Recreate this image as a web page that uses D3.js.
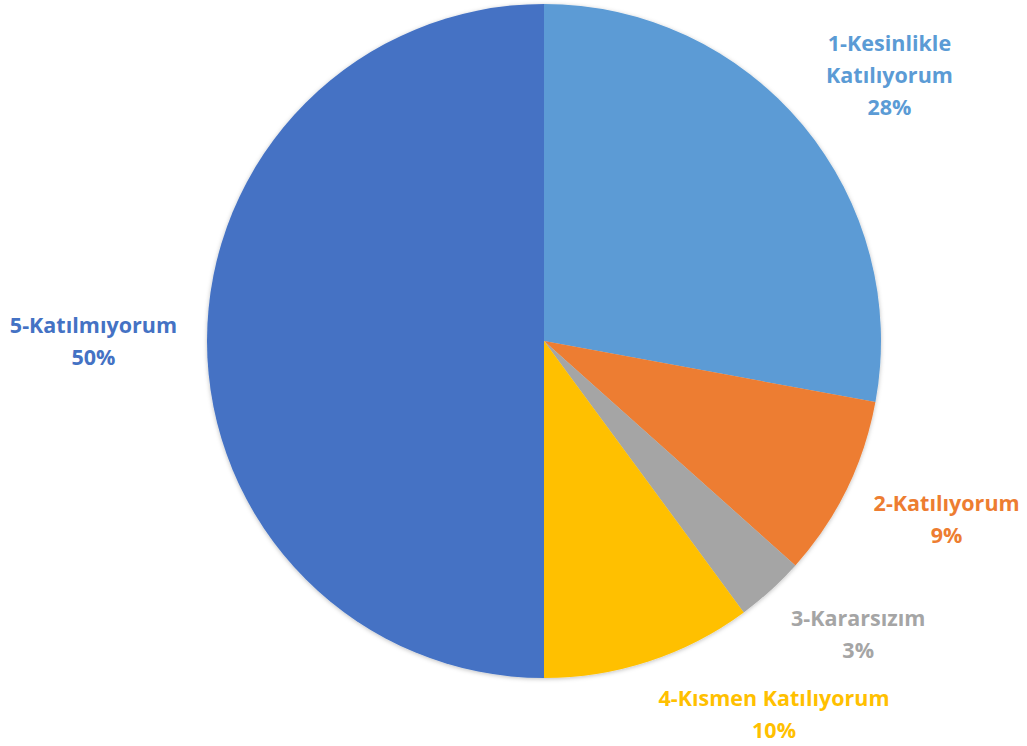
<!DOCTYPE html>
<html>
<head>
<meta charset="utf-8">
<script src="https://cdn.jsdelivr.net/npm/d3@7"></script>
<style>
  body { margin: 0; background: #fff; }
  svg text { font-family: "Open Sans", sans-serif; font-weight: bold; }
</style>
</head>
<body>
<svg id="chart"></svg>
<script>
const categories = ["1-Kesinlikle Katılıyorum", "2-Katılıyorum", "3-Kararsızım", "4-Kısmen Katılıyorum", "5-Katılmıyorum"];
// label lines as shown in the chart
const labelLines = [["1-Kesinlikle", "Katılıyorum"], ["2-Katılıyorum"], ["3-Kararsızım"], ["4-Kısmen Katılıyorum"], ["5-Katılmıyorum"]];
const values = [27.9, 8.7, 3.3, 10.1, 50];
const percentLabels = ["28%", "9%", "3%", "10%", "50%"];
const colors = ["#5B9BD5", "#ED7D31", "#A5A5A5", "#FFC000", "#4472C4"];

const drawPie = (svgId) => {
    const width = 1027, height = 746;
    const cx = 544, cy = 341, radius = 337;
    const lineHeight = 32;

    const svg = d3.select(svgId)
                  .attr("width", width)
                  .attr("height", height);

    const defs = svg.append("defs");
    defs.append("filter")
        .attr("id", "shadow")
        .attr("x", "-10%").attr("y", "-10%")
        .attr("width", "120%").attr("height", "120%")
        .append("feDropShadow")
        .attr("dx", 0).attr("dy", 1)
        .attr("stdDeviation", 2)
        .attr("flood-color", "#000")
        .attr("flood-opacity", 0.25);

    const g = svg.append("g")
                 .attr("transform", `translate(${cx}, ${cy})`);

    const pie = d3.pie()
                  .sort(null)
                  .value(d => d);

    const arc = d3.arc()
                  .innerRadius(0)
                  .outerRadius(radius);

    const arcs = pie(values);

    g.append("g")
     .attr("filter", "url(#shadow)")
     .selectAll("path")
     .data(arcs)
     .enter()
     .append("path")
     .attr("d", arc)
     .attr("fill", (d, i) => colors[i]);

    // labels: anchor just outside the arc at mid angle, then push block outward
    const labels = g.selectAll("g.label")
       .data(arcs)
       .enter()
       .append("g")
       .attr("class", "label");

    labels.each(function(d, i) {
        const el = d3.select(this);
        const lines = labelLines[i].concat([percentLabels[i]]);
        const text = el.append("text")
                       .attr("text-anchor", "middle")
                       .attr("fill", colors[i])
                       .attr("font-size", "21.5px");
        lines.forEach((l, k) => {
            text.append("tspan")
                .attr("x", 0)
                .attr("y", (k - (lines.length - 1) / 2) * lineHeight)
                .attr("dy", "0.35em")
                .text(l);
        });
        const bb = text.node().getBBox();
        const mid = (d.startAngle + d.endAngle) / 2;
        const r = radius + 30;
        const sx = Math.sin(mid), sy = -Math.cos(mid);
        const px = r * sx, py = r * sy;
        const hw = bb.width / 2, hh = bb.height / 2;
        const ox = Math.abs(sx) > 0.2 ? Math.sign(sx) * hw : sx * hw;
        const oy = Math.abs(sy) < 0.05 ? 0 : Math.sign(sy) * hh * (0.35 + 0.5 * Math.abs(sy));
        el.attr("transform", `translate(${px + ox}, ${py + oy})`);
    });
};

drawPie("#chart");
</script>
</body>
</html>
